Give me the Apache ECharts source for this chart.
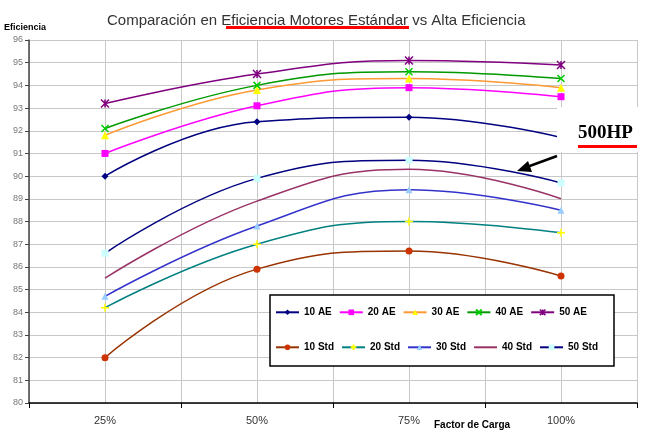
<!DOCTYPE html>
<html>
<head>
<meta charset="utf-8">
<script src="https://cdn.jsdelivr.net/npm/echarts@6/dist/echarts.min.js"></script>
<style>html,body{margin:0;padding:0;background:#fff}#c{width:651px;height:433px}</style>
</head>
<body>
<div id="c"></div>
<script>
var categories = ['25%', '50%', '75%', '100%'];
var yTicks = [80, 96, 1];
var s10AE = [90.0, 92.4, 92.6, 91.7];
var s20AE = [91.0, 93.1, 93.9, 93.5];
var s30AE = [91.8, 93.8, 94.3, 93.9];
var s40AE = [92.1, 94.0, 94.6, 94.3];
var s50AE = [93.2, 94.5, 95.1, 94.9];
var s10Std = [82.0, 85.9, 86.7, 85.6];
var s20Std = [84.2, 87.0, 88.0, 87.5];
var s30Std = [84.7, 87.8, 89.4, 88.5];
var s40Std = [85.5, 88.9, 90.3, 89.0];
var s50Std = [86.6, 89.9, 90.7, 89.7];

var X_PATH = 'path://M0,0L10,10M10,0L0,10';
var AST_PATH = 'path://M0,0L10,10M10,0L0,10M5,0L5,10';
var PLUS_PATH = 'path://M5,0L5,10M0,5L10,5';

function mk(name, data, lineColor, symbol, fill, stroke, size) {
  var o = {
    name: name, type: 'line', data: data, smooth: 0.45,
    xAxisIndex: 0, yAxisIndex: 0,
    symbol: symbol, symbolSize: size || 7, showSymbol: symbol !== 'none',
    lineStyle: { color: lineColor, width: 1.5 },
    itemStyle: { color: fill, borderColor: stroke || fill, borderWidth: stroke ? 1.5 : 0 },
    emphasis: { disabled: true },
    z: 2
  };
  return o;
}

var series = [
  mk('10 AE', s10AE, '#000080', 'diamond', '#000080'),
  mk('20 AE', s20AE, '#ff00ff', 'rect', '#ff00ff'),
  mk('30 AE', s30AE, '#ff9933', 'triangle', '#ffff00', null, 8),
  mk('40 AE', s40AE, '#009900', X_PATH, 'none', '#00cc00', 7),
  mk('50 AE', s50AE, '#800080', AST_PATH, 'none', '#800080', 8),
  mk('10 Std', s10Std, '#993300', 'circle', '#cc3300'),
  mk('20 Std', s20Std, '#008080', PLUS_PATH, 'none', '#ffff00', 8),
  mk('30 Std', s30Std, '#3333cc', 'triangle', '#99ccff', null, 7),
  mk('40 Std', s40Std, '#993366', 'none', '#993366'),
  mk('50 Std', s50Std, '#000080', 'rect', '#ccffff', null, 7)
];

var legendCommon = {
  orient: 'horizontal', left: 275, itemWidth: 23, itemHeight: 7, itemGap: 7,
  textStyle: { fontSize: 10, fontWeight: 'bold', color: '#000', fontFamily: 'Liberation Sans, Arial', width: 34 },
  selectedMode: false, z: 10, padding: 0
};

var chart = echarts.init(document.getElementById('c'), null, { renderer: 'canvas' });
chart.setOption({
  animation: false,
  backgroundColor: '#fff',
  title: {
    text: 'Comparación en Eficiencia Motores Estándar vs Alta Eficiencia',
    left: 102, top: 8,
    textStyle: { fontSize: 15, fontWeight: 'normal', color: '#333', fontFamily: 'Liberation Sans, Arial' }
  },
  grid: { left: 29, right: 14, top: 40, bottom: 30, containLabel: false, show: false },
  legend: [
    Object.assign({}, legendCommon, { top: 307, data: ['10 AE', '20 AE', '30 AE', '40 AE', { name: '50 AE', itemStyle: { color: 'none', borderColor: '#800080', borderWidth: 1.5 } }] }),
    Object.assign({}, legendCommon, { top: 342, data: ['10 Std', '20 Std', '30 Std', { name: '40 Std', itemStyle: { opacity: 0 } }, '50 Std'] })
  ],
  xAxis: [
    {
      type: 'category', data: categories, boundaryGap: true, position: 'bottom',
      axisLine: { show: true, lineStyle: { color: '#000', width: 1.5 } },
      axisTick: { show: true, length: 5, lineStyle: { color: '#000' } },
      axisLabel: { color: '#333', fontSize: 11, margin: 12, fontFamily: 'Liberation Sans, Arial' },
      splitLine: { show: true, lineStyle: { color: '#c8c8c8', width: 1 } }
    },
    {
      type: 'value', min: 12.5, max: 112.5, interval: 12.5, position: 'top',
      axisLine: { show: false }, axisTick: { show: false }, axisLabel: { show: false },
      splitLine: { show: true, lineStyle: { color: '#c8c8c8', width: 1 } }
    }
  ],
  yAxis: [{
    type: 'value', min: yTicks[0], max: yTicks[1], interval: yTicks[2],
    axisLine: { show: true, lineStyle: { color: '#444', width: 1.5 } },
    axisTick: { show: true, length: 4, lineStyle: { color: '#444' } },
    axisLabel: { color: '#777', fontSize: 9, margin: 6, fontFamily: 'Liberation Sans, Arial' },
    splitLine: { show: true, lineStyle: { color: '#c8c8c8', width: 1 } }
  }],
  series: series,
  graphic: [
    { type: 'rect', shape: { x: 226, y: 26, width: 183, height: 3 }, style: { fill: '#ff0000' }, z: 20 },
    { type: 'text', left: 4, top: 23, style: { text: 'Eficiencia', fontSize: 9, fontWeight: 'bold', fill: '#000', fontFamily: 'Liberation Sans, Arial' }, z: 20 },
    { type: 'text', left: 434, top: 420, style: { text: 'Factor de Carga', fontSize: 10, fontWeight: 'bold', fill: '#000', fontFamily: 'Liberation Sans, Arial' }, z: 20 },
    { type: 'rect', shape: { x: 270, y: 295, width: 344, height: 71 }, style: { fill: '#fff', stroke: '#000', lineWidth: 1.5 }, z: 5 },
    { type: 'rect', shape: { x: 557, y: 107, width: 94, height: 45 }, style: { fill: '#fff' }, z: 20 },
    { type: 'text', left: 578, top: 124, style: { text: '500HP', fontSize: 19, fontWeight: 'bold', fill: '#000', fontFamily: 'Liberation Serif, Times New Roman' }, z: 21 },
    { type: 'rect', shape: { x: 578, y: 145, width: 59, height: 3 }, style: { fill: '#ff0000' }, z: 21 },
    { type: 'line', shape: { x1: 557, y1: 156, x2: 527, y2: 167 }, style: { stroke: '#000', lineWidth: 2.5 }, z: 21 },
    { type: 'polygon', shape: { points: [[517, 171], [528, 161], [532, 172]] }, style: { fill: '#000' }, z: 21 }
  ]
});
</script>
</body>
</html>
